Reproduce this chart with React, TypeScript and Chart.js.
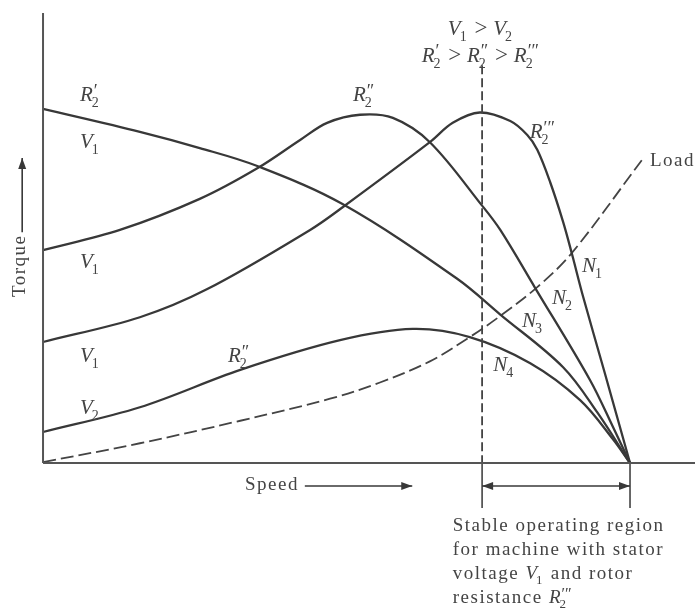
import { useEffect, useRef } from "react";
import { Chart, registerables } from "chart.js";

Chart.register(...registerables);

const W = 695;
const H = 612;

// ---------- series data (speed in % of synchronous speed, torque in arbitrary units) ----------
const speedR1V1 = [0, 16.5, 26.7, 36.5, 51.1, 70.5, 77.9, 88.6, 94.4, 100];
const torqueR1V1 = [78.7, 73.6, 70.0, 66.0, 57.5, 41.0, 33.0, 21.3, 11.3, 0];

const speedR2V1 = [0, 13.1, 26.7, 36.5, 43.8, 48.4, 54.0, 59.6, 65.9, 74.8, 77.9, 83.8, 93.2, 97.1, 100];
const torqueR2V1 = [47.3, 51.8, 58.7, 65.5, 71.8, 75.6, 77.4, 76.7, 71.3, 57.2, 51.8, 39.0, 18.4, 8.0, 0];

const speedR3V1 = [0, 16.5, 27.9, 45.5, 51.1, 65.9, 69.8, 74.4, 79.6, 82.5, 84.2, 86.4, 88.6, 90.1, 92.0, 95.7, 100];
const torqueR3V1 = [26.9, 32.4, 38.6, 51.8, 56.9, 71.3, 75.6, 77.9, 76.0, 72.9, 69.6, 62.4, 53.6, 46.5, 37.0, 20.0, 0];

const speedR2V2 = [0, 16.5, 33.6, 50.6, 63.0, 72.7, 83.0, 91.5, 97.1, 100];
const torqueR2V2 = [6.9, 12.4, 20.7, 27.3, 29.8, 28.0, 22.2, 14.0, 5.3, 0];

const speedLoad = [0, 16.5, 33.6, 48.9, 57.4, 65.9, 72.7, 77.9, 84.2, 90.1, 102.0];
const torqueLoad = [0.2, 4.4, 9.4, 14.3, 17.9, 22.6, 28.0, 32.7, 39.1, 46.7, 67.3];

// axes / marker lines (data coordinates)
const speedMax = 111.07;
const torqueMax = 100;
const stableStart = 74.8; // speed where R2''' V1 peaks (dashed line)
const stableEnd = 100;
const dashedTop = 88.4;
const tickBottom = -10;

// ---------- annotation text ----------
type Seg = { t?: string; k?: "n" | "i" | "op"; sub?: string; sup?: string };
type Label = { x: number; y: number; segs: Seg[]; align?: "left" | "center"; size?: number };

const R = (p: string): Seg[] => [{ t: "R", k: "i" }, { sub: "2", sup: p }];
const V = (n: string): Seg[] => [{ t: "V", k: "i" }, { sub: n }];
const N = (n: string): Seg[] => [{ t: "N", k: "i" }, { sub: n }];
const GT: Seg = { t: " > ", k: "op" };

const labels: Label[] = [
  { x: 74.6, y: 95.1, segs: [...V("1"), GT, ...V("2")], align: "center" },
  { x: 74.6, y: 89.1, segs: [...R("′"), GT, ...R("″"), GT, ...R("′″")], align: "center" },
  { x: 6.3, y: 80.4, segs: R("′") },
  { x: 6.3, y: 70.0, segs: V("1") },
  { x: 6.3, y: 43.3, segs: V("1") },
  { x: 6.3, y: 22.4, segs: V("1") },
  { x: 6.3, y: 10.9, segs: V("2") },
  { x: 31.5, y: 22.4, segs: R("″") },
  { x: 52.8, y: 80.4, segs: R("″") },
  { x: 82.9, y: 72.2, segs: R("′″") },
  { x: 103.4, y: 66.0, segs: [{ t: "Load", k: "n" }] },
  { x: 91.8, y: 42.4, segs: N("1") },
  { x: 86.7, y: 35.3, segs: N("2") },
  { x: 81.6, y: 30.2, segs: N("3") },
  { x: 76.7, y: 20.4, segs: N("4") },
  { x: 34.4, y: -6.0, segs: [{ t: "Speed", k: "n" }] },
  { x: 69.8, y: -15.1, segs: [{ t: "Stable operating region", k: "n" }] },
  { x: 69.8, y: -20.4, segs: [{ t: "for machine with stator", k: "n" }] },
  { x: 69.8, y: -25.8, segs: [{ t: "voltage ", k: "n" }, ...V("1"), { t: " and rotor", k: "n" }] },
  { x: 69.8, y: -31.1, segs: [{ t: "resistance ", k: "n" }, ...R("′″")] },
];

type Arrow = { x1: number; y1: number; x2: number; y2: number; both?: boolean };
const arrows: Arrow[] = [
  { x1: 44.6, y1: -5.1, x2: 62.9, y2: -5.1 },
  { x1: stableStart, y1: -5.1, x2: stableEnd, y2: -5.1, both: true },
  { x1: -3.55, y1: 51.3, x2: -3.55, y2: 67.8 },
];
const torqueTitle = { x: -3.0, y: 36.9, text: "Torque" };

const FONT = '"Liberation Serif", "Times New Roman", serif';
const INK = "#383838";
const TEXT = "#444";

function pts(xs: number[], ys: number[]) {
  return xs.map((x, i) => ({ x, y: ys[i] }));
}

function setFont(ctx: CanvasRenderingContext2D, s: Seg, size: number, part?: "sub" | "sup") {
  if (s.t !== undefined) {
    if (s.k === "i") {
      ctx.font = `italic ${size}px ${FONT}`;
      ctx.letterSpacing = "0px";
    } else if (s.k === "op") {
      ctx.font = `${size + 2}px ${FONT}`;
      ctx.letterSpacing = "0px";
    } else {
      ctx.font = `${size}px ${FONT}`;
      ctx.letterSpacing = "1.5px";
    }
  } else {
    ctx.font = `${Math.round(size * (part === "sup" ? 0.85 : 0.68))}px ${FONT}`;
    ctx.letterSpacing = "0px";
  }
}

function segWidth(ctx: CanvasRenderingContext2D, s: Seg, size: number) {
  if (s.t !== undefined) {
    setFont(ctx, s, size);
    return ctx.measureText(s.t).width;
  }
  setFont(ctx, s, size, "sub");
  const a = s.sub ? ctx.measureText(s.sub).width : 0;
  setFont(ctx, s, size, "sup");
  const b = s.sup ? ctx.measureText(s.sup).width + 1 : 0;
  return Math.max(a, b) + 1;
}

function drawRich(ctx: CanvasRenderingContext2D, segs: Seg[], x: number, y: number, size: number, align: string) {
  const total = segs.reduce((acc, s) => acc + segWidth(ctx, s, size), 0);
  let cx = align === "center" ? x - total / 2 : x;
  for (const s of segs) {
    const w = segWidth(ctx, s, size);
    if (s.t !== undefined) {
      setFont(ctx, s, size);
      ctx.fillText(s.t, cx, y);
    } else {
      if (s.sub) {
        setFont(ctx, s, size, "sub");
        ctx.fillText(s.sub, cx - 1, y + size * 0.28);
      }
      if (s.sup) {
        setFont(ctx, s, size, "sup");
        ctx.fillText(s.sup, cx + 1, y - size * 0.22);
      }
    }
    cx += w;
  }
  ctx.letterSpacing = "0px";
}

function head(ctx: CanvasRenderingContext2D, x: number, y: number, ang: number) {
  const L = 11;
  const Wd = 4;
  ctx.beginPath();
  ctx.moveTo(x, y);
  ctx.lineTo(x - L * Math.cos(ang) + Wd * Math.sin(ang), y - L * Math.sin(ang) - Wd * Math.cos(ang));
  ctx.lineTo(x - L * Math.cos(ang) - Wd * Math.sin(ang), y - L * Math.sin(ang) + Wd * Math.cos(ang));
  ctx.closePath();
  ctx.fill();
}

const annotations = {
  id: "annotations",
  afterDatasetsDraw(chart: any) {
    const ctx: CanvasRenderingContext2D = chart.ctx;
    const xs = chart.scales.x;
    const ys = chart.scales.y;
    ctx.save();
    ctx.fillStyle = TEXT;
    ctx.textBaseline = "alphabetic";
    ctx.textAlign = "left";
    for (const l of labels) {
      const isPlain = l.segs.some((s) => s.k === "n");
      drawRich(ctx, l.segs, xs.getPixelForValue(l.x), ys.getPixelForValue(l.y), l.size ?? (isPlain ? 19 : 21), l.align ?? "left");
    }
    // arrows
    ctx.strokeStyle = INK;
    ctx.fillStyle = INK;
    ctx.lineWidth = 1.6;
    for (const a of arrows) {
      const x1 = xs.getPixelForValue(a.x1), y1 = ys.getPixelForValue(a.y1);
      const x2 = xs.getPixelForValue(a.x2), y2 = ys.getPixelForValue(a.y2);
      ctx.beginPath();
      ctx.moveTo(x1, y1);
      ctx.lineTo(x2, y2);
      ctx.stroke();
      const ang = Math.atan2(y2 - y1, x2 - x1);
      head(ctx, x2, y2, ang);
      if (a.both) head(ctx, x1, y1, ang + Math.PI);
    }
    // rotated axis title
    ctx.fillStyle = TEXT;
    ctx.translate(xs.getPixelForValue(torqueTitle.x), ys.getPixelForValue(torqueTitle.y));
    ctx.rotate(-Math.PI / 2);
    ctx.font = `19px ${FONT}`;
    ctx.letterSpacing = "1.5px";
    ctx.textAlign = "left";
    ctx.fillText(torqueTitle.text, 0, 0);
    ctx.restore();
  },
};

export default function App() {
  const ref = useRef<HTMLCanvasElement>(null);
  useEffect(() => {
    if (!ref.current) return;
    const curve = (xs: number[], ys: number[], extra: any = {}) => ({
      data: pts(xs, ys),
      borderColor: INK,
      borderWidth: 2.3,
      pointRadius: 0,
      tension: 0.35,
      fill: false,
      clip: false,
      ...extra,
    });
    const straight = (d: { x: number; y: number }[], extra: any = {}) => ({
      data: d,
      borderColor: "#555",
      borderWidth: 2,
      pointRadius: 0,
      tension: 0,
      fill: false,
      clip: false,
      ...extra,
    });
    const chart = new Chart(ref.current, {
      type: "line",
      data: {
        datasets: [
          straight([{ x: 0, y: 0 }, { x: 0, y: torqueMax }]),
          straight([{ x: 0, y: 0 }, { x: speedMax, y: 0 }]),
          straight([{ x: stableStart, y: dashedTop }, { x: stableStart, y: 0 }], { borderDash: [9, 4], borderColor: "#444", borderWidth: 1.8 }),
          straight([{ x: stableStart, y: 0 }, { x: stableStart, y: tickBottom }], { borderColor: "#444", borderWidth: 1.6 }),
          straight([{ x: stableEnd, y: 0 }, { x: stableEnd, y: tickBottom }], { borderColor: "#444", borderWidth: 1.6 }),
          curve(speedR1V1, torqueR1V1),
          curve(speedR2V1, torqueR2V1),
          curve(speedR3V1, torqueR3V1),
          curve(speedR2V2, torqueR2V2),
          curve(speedLoad, torqueLoad, { borderDash: [13, 5], borderWidth: 1.8, borderColor: "#444" }),
        ] as any,
      },
      options: {
        animation: false,
        responsive: false,
        maintainAspectRatio: false,
        devicePixelRatio: 1,
        events: [],
        layout: { padding: 0 },
        plugins: { legend: { display: false }, tooltip: { enabled: false }, title: { display: false } },
        scales: {
          x: { type: "linear", min: -7.33, max: speedMax, display: false },
          y: { type: "linear", min: -33.1, max: 102.9, display: false },
        },
      },
      plugins: [annotations],
    });
    return () => chart.destroy();
  }, []);
  return (
    <div style={{ position: "fixed", left: 0, top: 0, width: W, height: H, background: "#fff" }}>
      <canvas ref={ref} width={W} height={H} style={{ display: "block", width: W, height: H }} />
    </div>
  );
}
